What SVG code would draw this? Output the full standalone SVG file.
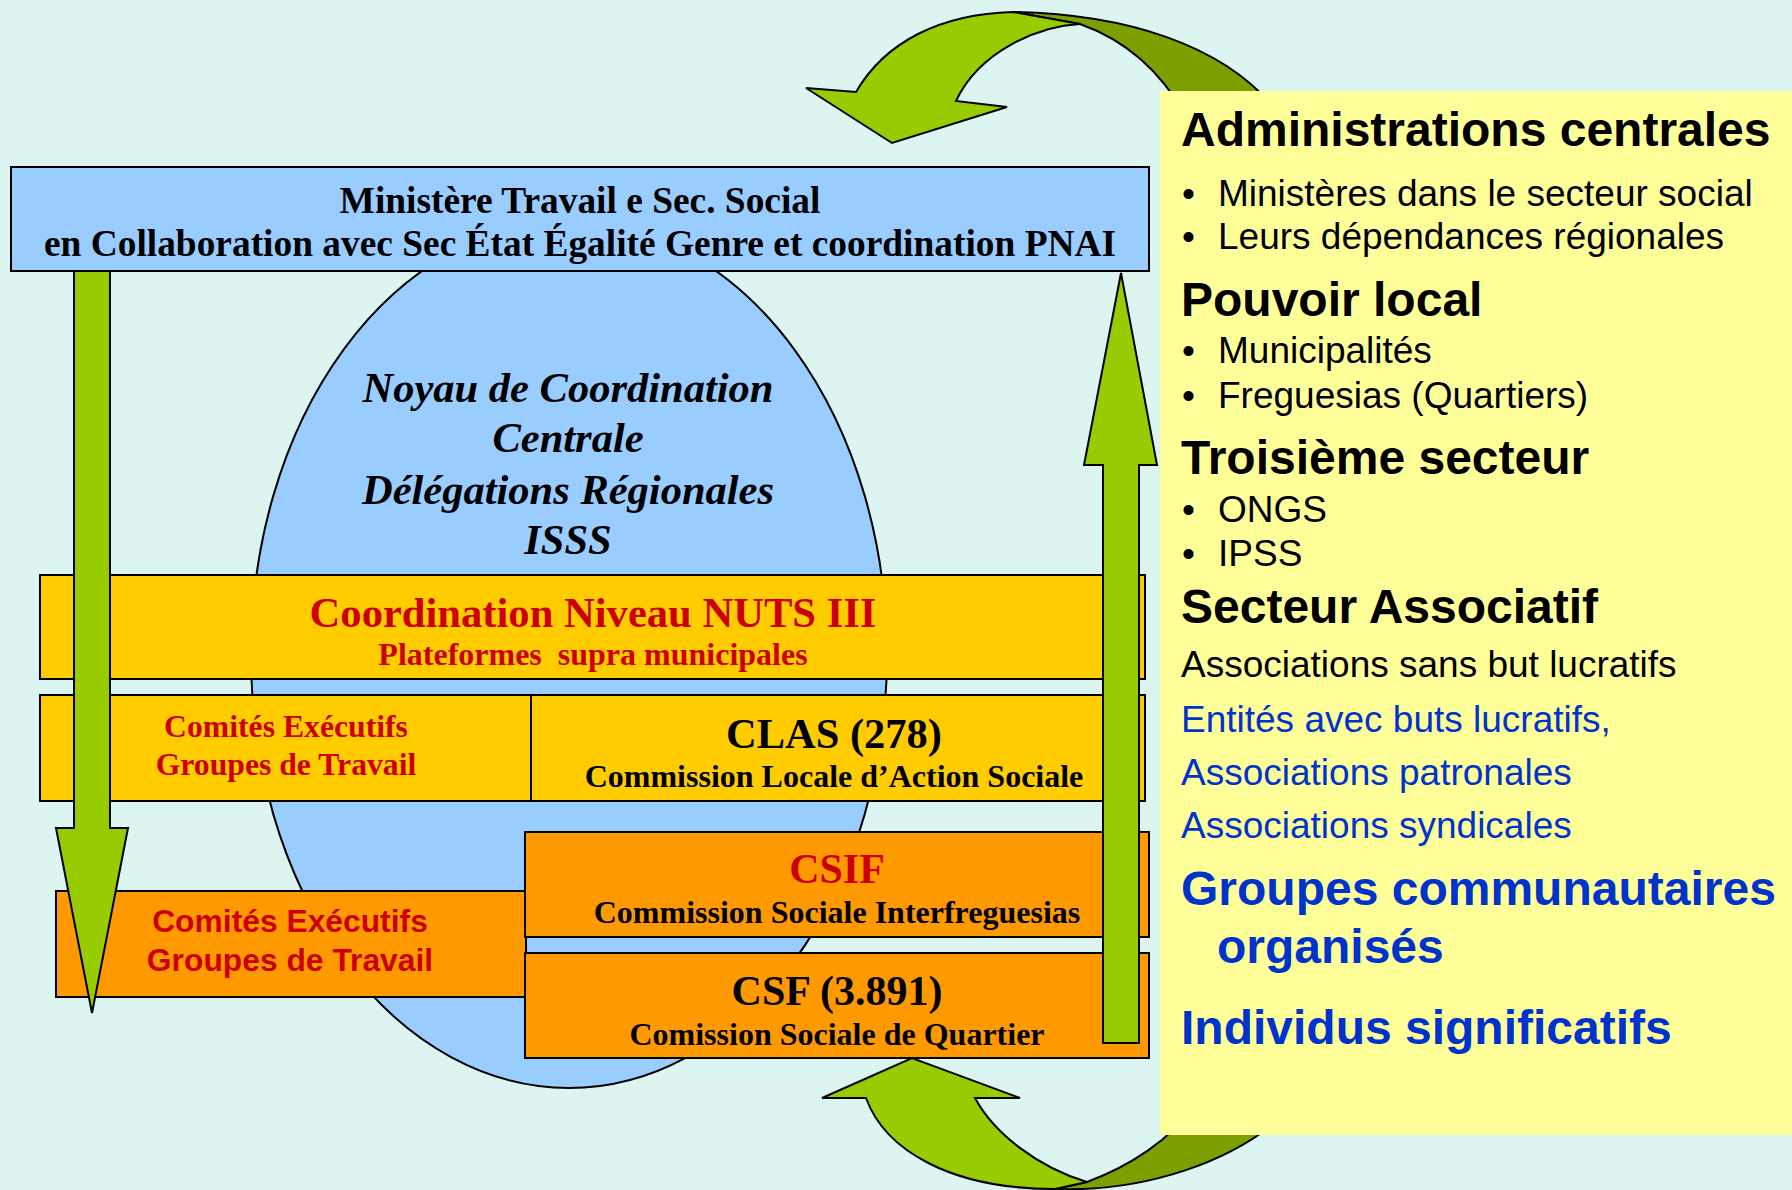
<svg xmlns="http://www.w3.org/2000/svg" width="1792" height="1190" viewBox="0 0 1792 1190">
<style>
.box{stroke:#000;stroke-width:2}
.blue{fill:#99CCFF}
.yel{fill:#FFCC00}
.ora{fill:#FF9900}
.grn{fill:#99CC00;stroke:#000;stroke-width:2;stroke-linejoin:miter}
.dgrn{fill:#7BA000;stroke:#000;stroke-width:2}
.serif{font-family:"Liberation Serif","Times New Roman",serif;font-weight:bold;text-anchor:middle}
.sans{font-family:"Liberation Sans",Arial,sans-serif}
.red{fill:#CC0000}
.blk{fill:#000}
.bl{fill:#0033CC}
.h{font-weight:bold;font-size:48px}
.r{font-size:37px}
</style>
<rect width="1792" height="1190" fill="#DDF5F1"/>

<g id="ellipse">
<ellipse cx="569" cy="655" rx="318" ry="433" fill="#99CCFF" stroke="#000" stroke-width="2"/>
<g class="serif" font-style="italic" font-size="42.5">
<text x="568" y="402">Noyau de Coordination</text>
<text x="568" y="452">Centrale</text>
<text x="568" y="504">Délégations Régionales</text>
<text x="568" y="554">ISSS</text>
</g>
</g>

<g id="connectors">
<path class="dgrn" d="M1013,12 C1120,14 1225,42 1280,115 L1185,115 C1160,70 1125,40 1080,24 Z"/>
<path class="grn" d="M856,92 C885,42 940,14 1013,12 L1080,24 C1040,26 980,50 956,101 L1007,107 L892,143 L806,88 Z"/>
<path class="dgrn" d="M1087,1182 L1055,1189 C1140,1192 1235,1165 1295,1105 L1195,1105 C1170,1140 1130,1166 1087,1182 Z"/>
<path class="grn" d="M866,1098 C885,1150 950,1189 1055,1189 L1087,1182 C1040,1168 995,1135 975,1098 L1020,1098 L912,1058 L822,1098 L866,1098 Z"/>
</g>

<g id="panel">
<rect x="1160" y="91" width="632" height="1044" fill="#FFFF99"/>
</g>

<g id="ministere">
<rect class="box blue" x="11" y="167" width="1138" height="104"/>
<g class="serif blk" font-size="37.4">
<text x="580" y="213">Ministère Travail e Sec. Social</text>
<text x="580" y="256">en Collaboration avec Sec État Égalité Genre et coordination PNAI</text>
</g>
</g>

<g id="nuts">
<rect class="box yel" x="40" y="575" width="1105" height="104"/>
<text class="serif red" x="593" y="627" font-size="42.6">Coordination Niveau NUTS III</text>
<text class="serif red" x="593" y="665" font-size="32" xml:space="preserve">Plateformes  supra municipales</text>
</g>

<g id="comites1">
<rect class="box yel" x="40" y="695" width="491" height="106"/>
<text class="serif red" x="286" y="737" font-size="31.7">Comités Exécutifs</text>
<text class="serif red" x="286" y="775" font-size="31.7">Groupes de Travail</text>
</g>

<g id="clas">
<rect class="box yel" x="531" y="695" width="614" height="106"/>
<text class="serif blk" x="834" y="748" font-size="42.5">CLAS (278)</text>
<text class="serif blk" x="834" y="787" font-size="32">Commission Locale d’Action Sociale</text>
</g>

<g id="comites2">
<rect class="box ora" x="56" y="891" width="470" height="106"/>
<text class="sans red" x="290" y="932" font-size="31.8" font-weight="bold" text-anchor="middle">Comités Exécutifs</text>
<text class="sans red" x="290" y="971" font-size="31.8" font-weight="bold" text-anchor="middle">Groupes de Travail</text>
</g>

<g id="csif">
<rect class="box ora" x="525" y="832" width="624" height="105"/>
<text class="serif red" x="837" y="883" font-size="42">CSIF</text>
<text class="serif blk" x="837" y="923" font-size="32">Commission Sociale Interfreguesias</text>
</g>

<g id="csf">
<rect class="box ora" x="525" y="953" width="624" height="105"/>
<text class="serif blk" x="837" y="1005" font-size="42">CSF (3.891)</text>
<text class="serif blk" x="837" y="1045" font-size="32">Comission Sociale de Quartier</text>
</g>

<g id="arrows">
<path class="grn" d="M74,271 L110,271 L110,828 L128,828 L92,1013 L56,828 L74,828 Z"/>
<path class="grn" d="M1103,1043 L1139,1043 L1139,465 L1157,465 L1121,273 L1084,465 L1103,465 Z"/>
</g>

<g id="panel-text" class="sans">
<text class="h blk" x="1181" y="146">Administrations centrales</text>
<text class="r blk" x="1182" y="206">•</text><text class="r blk" x="1218" y="206">Ministères dans le secteur social</text>
<text class="r blk" x="1182" y="249">•</text><text class="r blk" x="1218" y="249">Leurs dépendances régionales</text>
<text class="h blk" x="1181" y="316">Pouvoir local</text>
<text class="r blk" x="1182" y="363">•</text><text class="r blk" x="1218" y="363">Municipalités</text>
<text class="r blk" x="1182" y="408">•</text><text class="r blk" x="1218" y="408">Freguesias (Quartiers)</text>
<text class="h blk" x="1181" y="474">Troisième secteur</text>
<text class="r blk" x="1182" y="522">•</text><text class="r blk" x="1218" y="522">ONGS</text>
<text class="r blk" x="1182" y="566">•</text><text class="r blk" x="1218" y="566">IPSS</text>
<text class="h blk" x="1181" y="623">Secteur Associatif</text>
<text class="r blk" x="1181" y="677">Associations sans but lucratifs</text>
<text class="r bl" x="1181" y="732">Entités avec buts lucratifs,</text>
<text class="r bl" x="1181" y="785">Associations patronales</text>
<text class="r bl" x="1181" y="838">Associations syndicales</text>
<text class="h bl" x="1181" y="905" font-size="46.8">Groupes communautaires</text>
<text class="h bl" x="1217" y="963" font-size="46.8">organisés</text>
<text class="h bl" x="1181" y="1044">Individus significatifs</text>
</g>
</svg>
